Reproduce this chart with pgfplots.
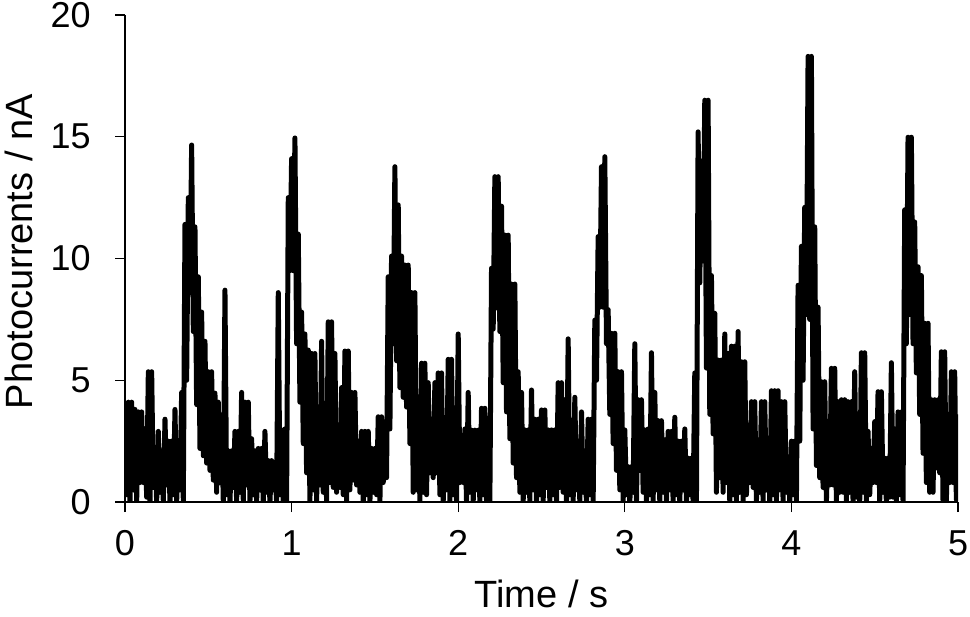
\documentclass[border=0pt]{standalone}
\usepackage{fontspec}
\setmainfont{Liberation Sans}
\usepackage{pgfplots}
\pgfplotsset{compat=1.18}

\begin{document}
\begin{tikzpicture}
\begin{axis}[
    scale only axis,
    width=416.5pt, height=243.5pt,
    xmin=0, xmax=5, ymin=0, ymax=20,
    axis x line*=bottom, axis y line*=left,
    xtick={0,1,2,3,4,5}, ytick={0,5,10,15,20},
    tick align=outside, major tick length=5pt,
    tick style={black, line width=0.6pt},
    axis line style={black, line width=0.7pt},
    /pgf/number format/assume math mode=true,
    tick label style={font=\fontsize{18}{18}\selectfont},
    yticklabel style={anchor=east, inner sep=0pt, xshift=-12pt},
    xticklabel style={anchor=north, inner sep=0pt, yshift=-9pt},
    label style={font=\fontsize{19}{19}\selectfont},
    xlabel={Time / s},
    ylabel={Photocurrents / nA},
    xlabel style={at={(axis description cs:0.5,-0.1880)}, anchor=center},
    ylabel style={at={(axis description cs:-0.1273,0.514)}, anchor=center},
]
\addplot[black, line width=2.5pt, line join=round, line cap=round, mark=none] coordinates {
(0.00,3.0) (0.01,0.3) (0.02,4.1) (0.03,0) (0.04,4.1) (0.05,0.5) (0.06,3.8) (0.07,0) (0.08,3.7) (0.09,0.8) (0.10,3.7) (0.11,0.8) (0.12,3.0) (0.13,0.2) (0.14,5.35) (0.15,0) (0.16,5.35) (0.17,0.6) (0.18,2.1) (0.19,0)
(0.20,2.9) (0.21,0.4) (0.22,2.1) (0.23,0) (0.24,3.4) (0.25,0.7) (0.26,2.5) (0.27,0) (0.28,2.5) (0.29,0.3) (0.30,3.8) (0.31,0) (0.32,1.9) (0.33,0.5) (0.34,4.5) (0.35,0) (0.36,11.4) (0.37,5.0) (0.38,12.5) (0.39,8.6)
(0.40,14.66) (0.41,7.0) (0.42,11.3) (0.43,4.0) (0.44,9.25) (0.45,2.2) (0.46,7.8) (0.47,1.9) (0.48,6.6) (0.49,1.6) (0.50,5.35) (0.51,1.3) (0.52,5.35) (0.53,0.9) (0.54,4.47) (0.55,0.4) (0.56,4.1) (0.57,0.8) (0.58,3.37) (0.59,0)
(0.60,8.7) (0.61,0.3) (0.62,2.1) (0.63,0) (0.64,2.1) (0.65,0.6) (0.66,2.9) (0.67,0) (0.68,2.9) (0.69,0.4) (0.70,4.5) (0.71,0) (0.72,4.1) (0.73,0.7) (0.74,4.1) (0.75,0) (0.76,2.6) (0.77,0.3) (0.78,2.1) (0.79,0)
(0.80,2.2) (0.81,0.5) (0.82,2.2) (0.83,0) (0.84,2.9) (0.85,0.4) (0.86,1.7) (0.87,0) (0.88,1.7) (0.89,0.5) (0.90,1.3) (0.91,0) (0.92,8.6) (0.93,0.3) (0.94,2.96) (0.95,0) (0.96,3.0) (0.97,0) (0.98,12.5) (0.99,9.5)
(1.00,14.1) (1.01,9.5) (1.02,14.95) (1.03,6.5) (1.04,11.0) (1.05,4.1) (1.06,7.8) (1.07,2.4) (1.08,6.9) (1.09,1.2) (1.10,6.24) (1.11,0) (1.12,6.1) (1.13,0.5) (1.14,6.1) (1.15,0) (1.16,3.5) (1.17,0.7) (1.18,6.6) (1.19,0.4)
(1.20,4.0) (1.21,0) (1.22,7.4) (1.23,0.8) (1.24,7.4) (1.25,0.6) (1.26,6.1) (1.27,0.4) (1.28,3.0) (1.29,0.6) (1.30,4.7) (1.31,0.3) (1.32,6.2) (1.33,0) (1.34,6.2) (1.35,0.5) (1.36,4.5) (1.37,0.9) (1.38,4.5) (1.39,0.7)
(1.40,2.5) (1.41,0.4) (1.42,2.9) (1.43,0) (1.44,2.9) (1.45,0.3) (1.46,2.9) (1.47,0) (1.48,2.2) (1.49,0.4) (1.50,2.2) (1.51,0.3) (1.52,3.5) (1.53,0) (1.54,3.5) (1.55,0.8) (1.56,3.3) (1.57,1.0) (1.58,9.25) (1.59,3.0)
(1.60,10.1) (1.61,6.5) (1.62,13.77) (1.63,5.8) (1.64,12.2) (1.65,4.7) (1.66,10.1) (1.67,4.3) (1.68,9.73) (1.69,3.9) (1.70,9.73) (1.71,2.4) (1.72,8.6) (1.73,0.4) (1.74,8.6) (1.75,0.5) (1.76,4.1) (1.77,0) (1.78,5.7) (1.79,0.4)
(1.80,5.7) (1.81,0.3) (1.82,4.9) (1.83,1.2) (1.84,3.4) (1.85,1.0) (1.86,4.9) (1.87,1.2) (1.88,5.3) (1.89,0.3) (1.90,5.3) (1.91,0) (1.92,3.0) (1.93,0.5) (1.94,5.86) (1.95,0) (1.96,5.86) (1.97,0.3) (1.98,2.5) (1.99,0)
(2.00,6.9) (2.01,0.8) (2.02,2.0) (2.03,0.8) (2.04,3.0) (2.05,0) (2.06,4.5) (2.07,0.4) (2.08,2.95) (2.09,0) (2.10,2.95) (2.11,0.5) (2.12,2.95) (2.13,0) (2.14,3.85) (2.15,0.3) (2.16,3.85) (2.17,0) (2.18,2.1) (2.19,0)
(2.20,9.6) (2.21,7.1) (2.22,13.36) (2.23,7.97) (2.24,13.36) (2.25,7.0) (2.26,12.15) (2.27,4.9) (2.28,10.96) (2.29,3.7) (2.30,10.96) (2.31,2.6) (2.32,8.95) (2.33,1.6) (2.34,8.95) (2.35,1.0) (2.36,5.35) (2.37,0.4) (2.38,4.5) (2.39,0)
(2.40,2.96) (2.41,0.4) (2.42,2.96) (2.43,0) (2.44,4.6) (2.45,0.5) (2.46,3.4) (2.47,0) (2.48,3.4) (2.49,0.3) (2.50,3.78) (2.51,0) (2.52,3.78) (2.53,0.6) (2.54,2.96) (2.55,0) (2.56,2.96) (2.57,0.3) (2.58,2.96) (2.59,0)
(2.60,4.9) (2.61,0.6) (2.62,4.9) (2.63,0.4) (2.64,4.2) (2.65,0) (2.66,6.7) (2.67,0.3) (2.68,2.1) (2.69,0) (2.70,4.3) (2.71,0.5) (2.72,2.5) (2.73,0) (2.74,3.7) (2.75,0.4) (2.76,1.3) (2.77,0) (2.78,3.4) (2.79,0.3)
(2.80,3.4) (2.81,0) (2.82,7.47) (2.83,5.0) (2.84,10.9) (2.85,8.0) (2.86,13.77) (2.87,8.0) (2.88,14.18) (2.89,6.5) (2.90,7.9) (2.91,3.6) (2.92,6.93) (2.93,2.4) (2.94,6.93) (2.95,1.3) (2.96,5.35) (2.97,0.5) (2.98,5.35) (2.99,0)
(3.00,2.96) (3.01,0.3) (3.02,1.45) (3.03,0) (3.04,1.45) (3.05,0.4) (3.06,6.5) (3.07,0) (3.08,4.2) (3.09,1.3) (3.10,4.2) (3.11,0.4) (3.12,2.96) (3.13,0) (3.14,3.0) (3.15,0.3) (3.16,6.13) (3.17,0) (3.18,4.5) (3.19,0.5)
(3.20,3.34) (3.21,0) (3.22,3.34) (3.23,0.4) (3.24,2.55) (3.25,0) (3.26,2.9) (3.27,0.5) (3.28,2.9) (3.29,0) (3.30,3.48) (3.31,0.3) (3.32,2.5) (3.33,0) (3.34,2.5) (3.35,0.5) (3.36,3.0) (3.37,0) (3.38,1.8) (3.39,0.3)
(3.40,1.8) (3.41,0) (3.42,5.3) (3.43,0) (3.44,15.2) (3.45,9.0) (3.46,14.0) (3.47,9.9) (3.48,16.5) (3.49,5.5) (3.50,16.5) (3.51,3.6) (3.52,9.3) (3.53,2.8) (3.54,7.75) (3.55,0.4) (3.56,5.83) (3.57,1.0) (3.58,5.83) (3.59,0.4)
(3.60,6.9) (3.61,0.8) (3.62,6.1) (3.63,0) (3.64,6.4) (3.65,0.3) (3.66,6.4) (3.67,0) (3.68,7.0) (3.69,0.4) (3.70,5.76) (3.71,0) (3.72,5.76) (3.73,0.3) (3.74,2.55) (3.75,0.8) (3.76,4.12) (3.77,0.6) (3.78,4.12) (3.79,0)
(3.80,2.55) (3.81,0.4) (3.82,4.12) (3.83,0) (3.84,4.12) (3.85,0.5) (3.86,2.4) (3.87,0) (3.88,4.57) (3.89,0.3) (3.90,4.57) (3.91,0) (3.92,4.57) (3.93,0.5) (3.94,4.12) (3.95,0) (3.96,4.12) (3.97,0.4) (3.98,1.86) (3.99,0)
(4.00,2.5) (4.01,0.3) (4.02,2.5) (4.03,0) (4.04,8.9) (4.05,2.5) (4.06,10.5) (4.07,5.0) (4.08,12.1) (4.09,7.7) (4.10,18.3) (4.11,7.5) (4.12,18.3) (4.13,3.0) (4.14,11.3) (4.15,1.5) (4.16,8.0) (4.17,1.0) (4.18,4.94) (4.19,0.6)
(4.20,4.94) (4.21,0) (4.22,2.5) (4.23,0.7) (4.24,5.49) (4.25,0.7) (4.26,5.49) (4.27,0) (4.28,4.12) (4.29,0.4) (4.30,4.2) (4.31,0.4) (4.32,4.2) (4.33,0) (4.34,4.12) (4.35,0.4) (4.36,4.12) (4.37,0) (4.38,5.35) (4.39,0.2)
(4.40,3.0) (4.41,0) (4.42,6.13) (4.43,0.4) (4.44,6.13) (4.45,0) (4.46,2.9) (4.47,0.3) (4.48,2.2) (4.49,0.8) (4.50,3.3) (4.51,0.8) (4.52,4.53) (4.53,0) (4.54,4.53) (4.55,0.4) (4.56,1.8) (4.57,0) (4.58,1.8) (4.59,0.2)
(4.60,5.72) (4.61,0.2) (4.62,3.0) (4.63,0) (4.64,3.7) (4.65,0.3) (4.66,3.7) (4.67,0) (4.68,12.0) (4.69,6.5) (4.70,14.98) (4.71,7.7) (4.72,14.98) (4.73,6.5) (4.74,11.5) (4.75,5.3) (4.76,9.66) (4.77,3.6) (4.78,9.3) (4.79,2.0)
(4.80,7.34) (4.81,0.8) (4.82,7.34) (4.83,0.4) (4.84,4.2) (4.85,0.4) (4.86,4.2) (4.87,1.4) (4.88,4.2) (4.89,1.2) (4.90,6.17) (4.91,0) (4.92,6.17) (4.93,0) (4.94,3.5) (4.95,0.8) (4.96,5.35) (4.97,0.8) (4.98,5.35) (4.99,0.1)
(5.00,3.5)
};
\end{axis}
\pgfresetboundingbox
\path ([xshift=-62.5pt,yshift=-57pt]current axis.south west) rectangle ([xshift=6pt,yshift=7.5pt]current axis.north east);
\end{tikzpicture}
\end{document}
